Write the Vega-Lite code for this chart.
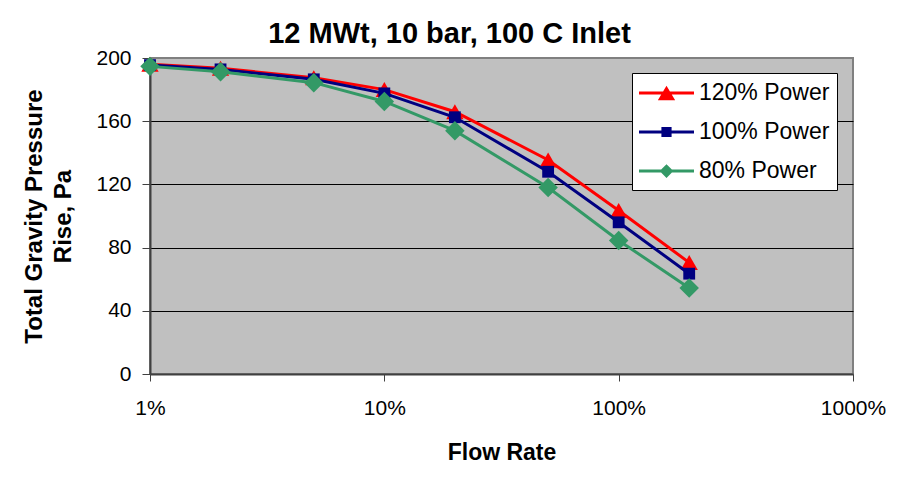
{
  "$schema": "https://vega.github.io/schema/vega-lite/v6.json",
  "width": 703,
  "height": 316,
  "autosize": {"type": "none"},
  "padding": {"left": 150, "top": 58, "right": 46, "bottom": 108},
  "background": "white",
  "title": {
    "text": "12 MWt, 10 bar, 100 C Inlet",
    "font": "Liberation Sans",
    "fontSize": 29,
    "fontWeight": "bold",
    "color": "black",
    "anchor": "middle",
    "dx": -52,
    "offset": -2
  },
  "config": {
    "font": "Liberation Sans",
    "view": {"fill": "#C0C0C0", "stroke": "#808080", "strokeWidth": 2}
  },
  "data": {
    "values": [
      {"flow": 1, "series": "120% Power", "value": 196},
      {"flow": 2, "series": "120% Power", "value": 193.5},
      {"flow": 5, "series": "120% Power", "value": 187.5},
      {"flow": 10, "series": "120% Power", "value": 180},
      {"flow": 20, "series": "120% Power", "value": 166},
      {"flow": 50, "series": "120% Power", "value": 135.5},
      {"flow": 100, "series": "120% Power", "value": 103.5},
      {"flow": 200, "series": "120% Power", "value": 70.5},
      {"flow": 1, "series": "100% Power", "value": 195.5},
      {"flow": 2, "series": "100% Power", "value": 192.8},
      {"flow": 5, "series": "100% Power", "value": 186.5},
      {"flow": 10, "series": "100% Power", "value": 177.6},
      {"flow": 20, "series": "100% Power", "value": 162.5},
      {"flow": 50, "series": "100% Power", "value": 128},
      {"flow": 100, "series": "100% Power", "value": 96},
      {"flow": 200, "series": "100% Power", "value": 63.5},
      {"flow": 1, "series": "80% Power", "value": 194.7},
      {"flow": 2, "series": "80% Power", "value": 191.3},
      {"flow": 5, "series": "80% Power", "value": 184.4},
      {"flow": 10, "series": "80% Power", "value": 172.5},
      {"flow": 20, "series": "80% Power", "value": 154},
      {"flow": 50, "series": "80% Power", "value": 118},
      {"flow": 100, "series": "80% Power", "value": 84.5},
      {"flow": 200, "series": "80% Power", "value": 54.5}
    ]
  },
  "encoding": {
    "x": {
      "field": "flow",
      "type": "quantitative",
      "scale": {"type": "log", "domain": [1, 1000], "nice": false},
      "axis": {
        "title": "Flow Rate",
        "values": [1, 10, 100, 1000],
        "labelExpr": "datum.value + '%'",
        "grid": false,
        "labelFlush": false,
        "labelOverlap": false,
        "labelBound": false,
        "labelFont": "Liberation Sans",
        "labelFontSize": 21,
        "labelColor": "black",
        "labelPadding": 16,
        "tickSize": 7,
        "tickColor": "#404040",
        "tickWidth": 1,
        "domainColor": "#404040",
        "domainWidth": 2,
        "titleFont": "Liberation Sans",
        "titleFontSize": 23,
        "titleFontWeight": "bold",
        "titleColor": "black",
        "titleBaseline": "top",
        "titleY": 67
      }
    },
    "y": {
      "field": "value",
      "type": "quantitative",
      "scale": {"domain": [0, 200], "nice": false, "zero": true},
      "axis": {
        "title": ["Total Gravity Pressure", "Rise, Pa"],
        "values": [0, 40, 80, 120, 160, 200],
        "grid": true,
        "gridColor": {"condition": {"test": "datum.value > 0 && datum.value < 200", "value": "black"}, "value": "#808080"},
        "gridWidth": 1,
        "labelFont": "Liberation Sans",
        "labelFontSize": 21,
        "labelColor": "black",
        "labelPadding": 11,
        "tickSize": 8,
        "tickColor": "#404040",
        "tickWidth": 1,
        "domainColor": "#404040",
        "domainWidth": 2,
        "titleFont": "Liberation Sans",
        "titleFontSize": 24,
        "titleFontWeight": "bold",
        "titleColor": "black",
        "titleLineHeight": 29,
        "titleBaseline": "top",
        "titleAngle": -90,
        "titleAlign": "center",
        "titleX": -128,
        "titleY": 158
      }
    },
    "color": {
      "field": "series",
      "type": "nominal",
      "scale": {
        "domain": ["120% Power", "100% Power", "80% Power"],
        "range": ["#FF0000", "#000080", "#339966"]
      },
      "legend": {
        "title": null,
        "orient": "none",
        "legendX": 482,
        "legendY": 15,
        "fillColor": "white",
        "strokeColor": "black",
        "padding": 7,
        "rowPadding": 14,
        "labelFont": "Liberation Sans",
        "labelFontSize": 23,
        "labelColor": "black",
        "labelOffset": 5,
        "symbolStrokeWidth": 0,
        "encode": {
          "symbols": {
            "update": {
              "shape": {"signal": "datum.value === '120% Power' ? 'M-1,-0.056L1,-0.056L1,0.056L-1,0.056Z M0,-0.26L0.315,0.26L-0.315,0.26Z' : datum.value === '100% Power' ? 'M-1,-0.056L1,-0.056L1,0.056L-1,0.056Z M-0.185,-0.185L0.185,-0.185L0.185,0.185L-0.185,0.185Z' : 'M-1,-0.056L1,-0.056L1,0.056L-1,0.056Z M0,-0.25L0.25,0L0,0.25L-0.25,0Z'"},
              "size": {"signal": "3025"},
              "y": {"signal": "13"},
              "fill": {"scale": "color", "field": "value"},
              "stroke": {"value": "transparent"}
            }
          },
          "labels": {
            "update": {
              "y": {"signal": "13"}
            }
          }
        }
      }
    }
  },
  "layer": [
    {
      "transform": [{"filter": "datum.series === '120% Power'"}],
      "mark": {"type": "line", "strokeWidth": 3, "point": {"shape": "triangle-up", "size": 300, "filled": true, "opacity": 1}}
    },
    {
      "transform": [{"filter": "datum.series === '100% Power'"}],
      "mark": {"type": "line", "strokeWidth": 3, "point": {"shape": "square", "size": 140, "filled": true, "opacity": 1}}
    },
    {
      "transform": [{"filter": "datum.series === '80% Power'"}],
      "mark": {"type": "line", "strokeWidth": 3, "point": {"shape": "diamond", "size": 380, "filled": true, "opacity": 1}}
    }
  ]
}
